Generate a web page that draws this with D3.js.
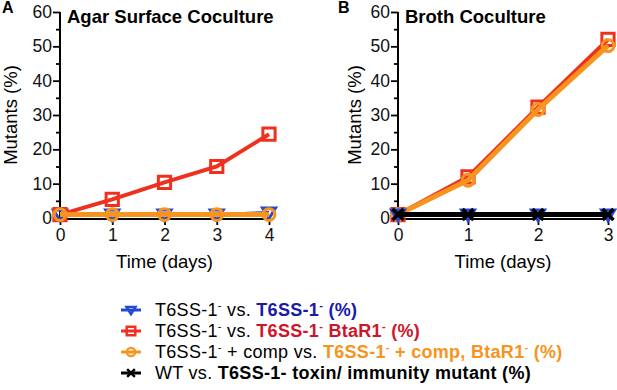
<!DOCTYPE html>
<html><head><meta charset="utf-8">
<script src="https://cdn.jsdelivr.net/npm/d3@7"></script>
<style>body{margin:0;background:#fff}svg{display:block}text{font-family:"Liberation Sans",Arial,sans-serif}</style>
</head><body><svg id="c" width="617" height="390"></svg>
<script>
const daysA = [0,1,2,3,4];
const daysB = [0,1,2,3];
const yTicks = [0,10,20,30,40,50,60];
const yMinor = [5,15,25,35,45,55];
const colors = {blue:"#2448d8", red:"#f0301f", orange:"#f7941d", black:"#000000"};
const aBlue = [1,1,1,1,1.6];
const aRed = [1,5.4,10.4,15,24.4];
const aOrange = [1,1,1,1,1];
const bRed = [1,12,32.3,52];
const bOrange = [1,11,31.6,50.2];
const bBlue = [1,1,1,1];
const bBlack = [1,1,1,1];

const svg = d3.select("#c");

function symbolPath(kind){
  if(kind==="red") return d3.symbol().type(d3.symbolSquare).size(150)();
  if(kind==="orange") return d3.symbol().type(d3.symbolCircle).size(110)();
  if(kind==="blue") return "M-6.5,-4.5 L6.5,-4.5 L0,6 Z";
  return "M-5.5,-5.5 L5.5,5.5 M-5.5,5.5 L5.5,-5.5";
}
const lw = {blue:3, red:4, orange:5, black:5};

function panel(opt){
  const x = d3.scaleLinear().domain([0, opt.days.length-1]).range([opt.x0, opt.x1]);
  const y = d3.scaleLinear().domain([0,60]).range([218,12]);
  const g = svg.append("g");
  const ya = g.append("g").attr("transform",`translate(${opt.x0},0)`)
    .call(d3.axisLeft(y).tickValues(yTicks).tickSize(7).tickPadding(1));
  ya.select(".domain").attr("stroke-width",2).attr("d",`M0,${y(60)}V${y(0)+3}`);
  ya.selectAll(".tick line").attr("stroke-width",1.8);
  ya.selectAll("text").attr("font-size",17.5).attr("fill","#111");
  const minor = g.append("g").attr("transform",`translate(${opt.x0},0)`)
    .call(d3.axisLeft(y).tickValues(yMinor).tickSize(4).tickFormat(""));
  minor.select(".domain").remove();
  minor.selectAll(".tick line").attr("stroke-width",1.8);
  const xa = g.append("g").attr("transform",`translate(0,219)`)
    .call(d3.axisBottom(x).tickValues(opt.days).tickSize(6).tickPadding(4).tickFormat(d3.format("d")));
  xa.select(".domain").attr("stroke-width",2).attr("d",`M${opt.x0},0H${opt.x1+1}`);
  xa.selectAll(".tick line").attr("stroke-width",1.8);
  xa.selectAll("text").attr("font-size",17.5).attr("fill","#111");
  g.append("text").attr("transform",`translate(${opt.x0-opt.yl},${(y(0)+y(60))/2}) rotate(-90)`)
    .attr("text-anchor","middle").attr("font-size",18.5).text("Mutants (%)");
  g.append("text").attr("x",(opt.x0+opt.x1)/2).attr("y",268).attr("text-anchor","middle")
    .attr("font-size",18.5).text("Time (days)");
  g.append("text").attr("x",opt.x0+7).attr("y",23).attr("font-size",18.5).attr("font-weight","bold").text(opt.title);
  g.append("text").attr("x",opt.lx).attr("y",13).attr("font-size",16).attr("font-weight","bold").text(opt.letter);
  const line = d3.line().x((d,i)=>x(opt.days[i])).y(d=>y(d));
  opt.series.forEach(s=>{
    g.append("path").attr("d",line(s.vals)).attr("fill","none").attr("stroke",colors[s.k]).attr("stroke-width",lw[s.k]);
    g.selectAll(null).data(s.vals).enter().append("path")
      .attr("d",symbolPath(s.k))
      .attr("transform",(d,i)=>`translate(${x(opt.days[i])},${y(d)})`)
      .attr("fill","none")
      .attr("stroke",colors[s.k]).attr("stroke-width", s.k==="black"?3.6:3);
  });
}

panel({days:daysA, x0:60, x1:269, yl:43, title:"Agar Surface Coculture", letter:"A", lx:2,
  series:[{k:"blue",vals:aBlue},{k:"red",vals:aRed},{k:"orange",vals:aOrange}]});
panel({days:daysB, x0:398, x1:608, yl:37, title:"Broth Coculture", letter:"B", lx:338,
  series:[{k:"red",vals:bRed},{k:"orange",vals:bOrange},{k:"blue",vals:bBlue},{k:"black",vals:bBlack}]});

const legendRows = [
  {k:"blue", parts:[["T6SS-1",0],["-",1],[" vs. ",0],["T6SS-1",2],["-",3],[" (%)",2]], col:"#1a1aa8"},
  {k:"red", parts:[["T6SS-1",0],["-",1],[" vs. ",0],["T6SS-1",2],["-",3],[" BtaR1",2],["-",3],[" (%)",2]], col:"#d0152a"},
  {k:"orange", parts:[["T6SS-1",0],["-",1],[" + comp vs. ",0],["T6SS-1",2],["-",3],[" + comp, BtaR1",2],["-",3],[" (%)",2]], col:"#f7941d"},
  {k:"black", parts:[["WT vs. ",0],["T6SS-1- toxin/ immunity mutant (%)",2]], col:"#000"}
];
const ly = [316,337,358,379];
legendRows.forEach((r,i)=>{
  const g = svg.append("g").attr("transform",`translate(0,${ly[i]})`);
  g.append("line").attr("x1",121).attr("x2",141).attr("y1",-6).attr("y2",-6).attr("stroke",colors[r.k]).attr("stroke-width",3);
  g.append("path").attr("d",symbolPath(r.k)).attr("transform",`translate(131,-6) scale(0.7)`)
    .attr("fill","none").attr("stroke",colors[r.k]).attr("stroke-width",3.5);
  const t = g.append("text").attr("x",155).attr("y",0).attr("font-size",18).attr("letter-spacing",0.3);
  let prevSup=false;
  r.parts.forEach(p=>{
    const sup=(p[1]===1||p[1]===3);
    const sp = t.append("tspan").text(p[0]).attr("dy", sup? -7 : (prevSup? 7:0));
    if(sup) sp.attr("font-size",11);
    if(p[1]>=2) sp.attr("font-weight","bold").attr("fill",r.col);
    prevSup=sup;
  });
});
</script></body></html>
